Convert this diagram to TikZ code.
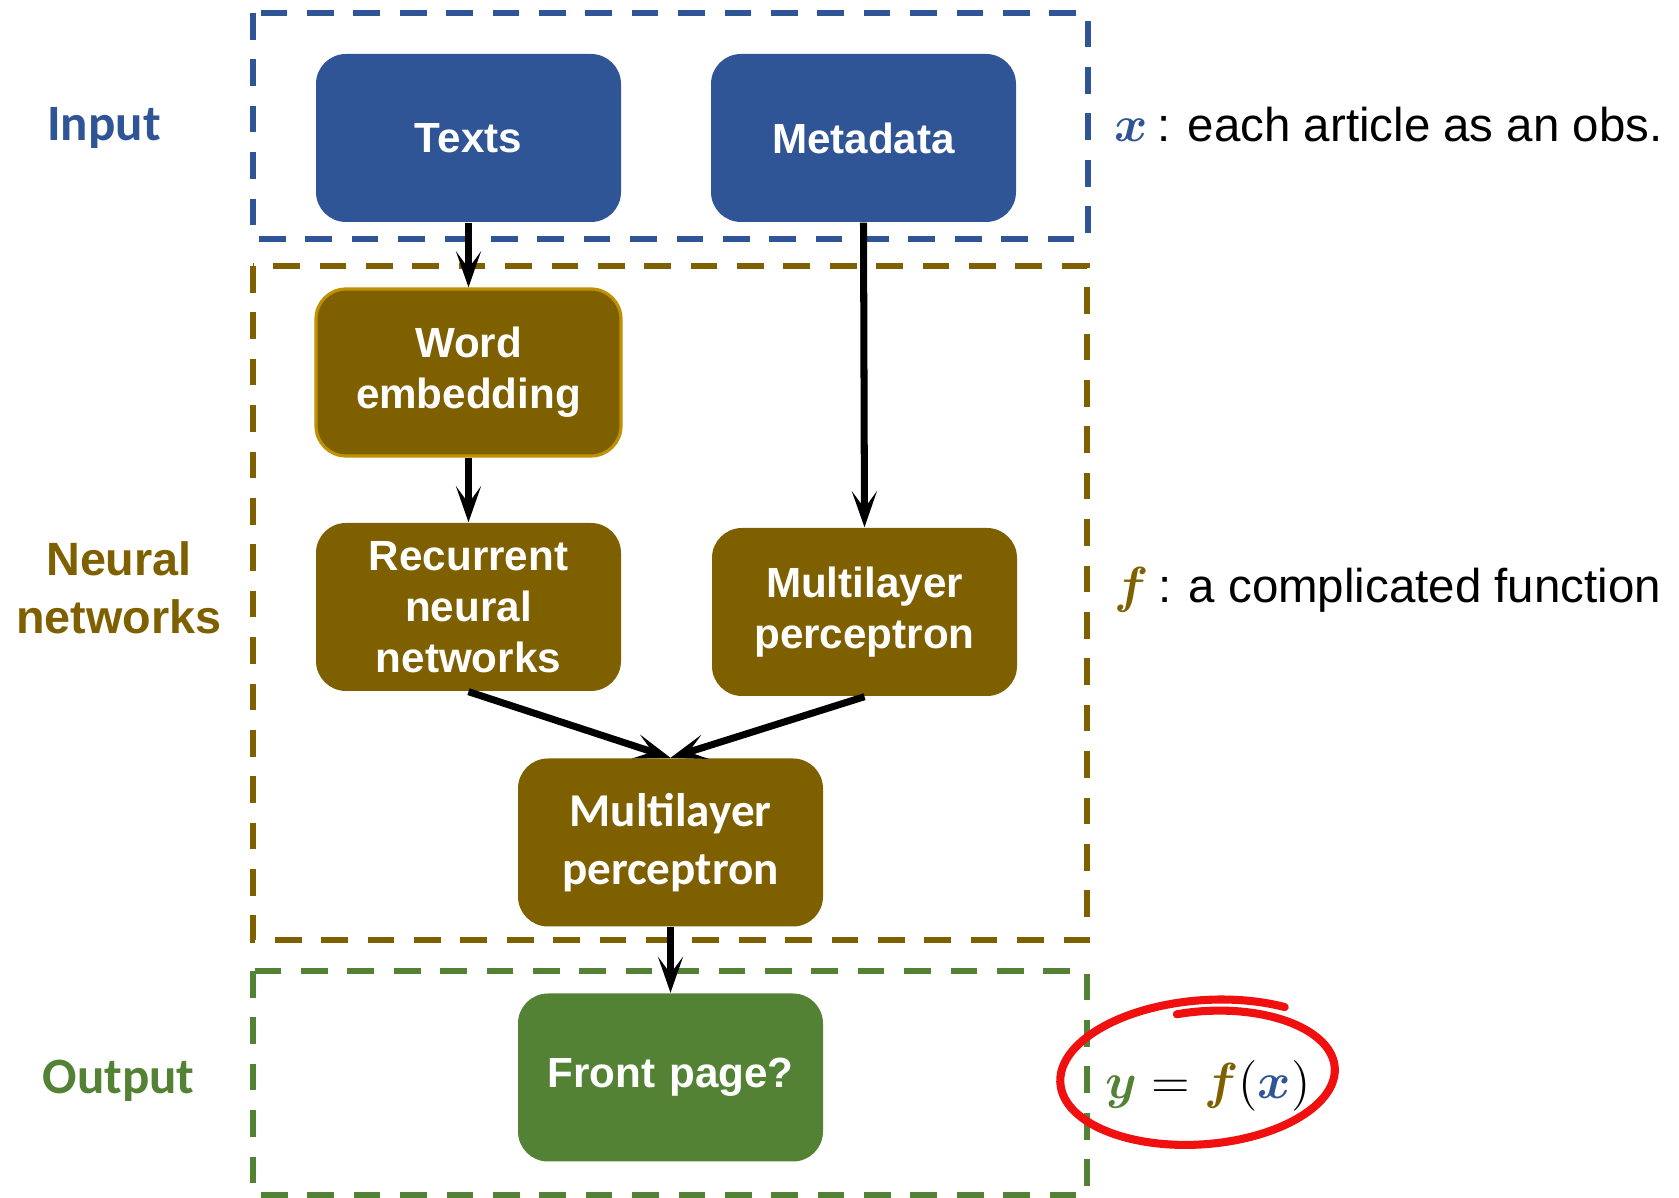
\documentclass[tikz,border=0pt]{standalone}
\usepackage[no-math]{fontspec}
\usepackage{bm}
\setmainfont{Liberation Sans}
\newfontfamily\calibri{Carlito}
\usetikzlibrary{arrows.meta}
\definecolor{inblue}{HTML}{2F5597}
\definecolor{nnbrown}{HTML}{7F6000}
\definecolor{nngold}{HTML}{BF9000}
\definecolor{outgreen}{HTML}{548235}
\definecolor{loopred}{HTML}{F01010}

\begin{document}
\begin{tikzpicture}[
    box/.style={rounded corners=0.3cm, minimum width=3.05cm, minimum height=1.68cm, text width=2.95cm, align=center, inner sep=0pt, text=white, font=\fontsize{12}{14.5}\selectfont\bfseries},
    frame/.style={line width=1.5pt, dash pattern=on 7.6pt off 5.6pt},
    link/.style={line width=2pt, -{Stealth[length=0.36cm, width=0.25cm, inset=0.17cm]}},
    side/.style={align=center, inner sep=0pt},
    note/.style={anchor=base west, inner sep=0pt, font=\fontsize{13.5}{16}\selectfont}
]
    \useasboundingbox (0,0) rectangle (16.79,11.98);
    % dashed frames
    \draw[frame, inblue] (2.53,11.85) rectangle (10.88,9.59);
    \draw[frame, nnbrown] (2.53,9.32) rectangle (10.87,2.58);
    \draw[frame, outgreen] (2.53,2.27) rectangle (10.87,0.03);
    % side labels
    \node[side, text=inblue, font=\calibri\fontsize{14.5}{18}\selectfont\bfseries] (lin) at (1.04,10.70) {Input};
    \node[side, text=nnbrown, font=\fontsize{13.3}{16.5}\selectfont\bfseries] (lnn) at (1.19,6.10) {Neural\\networks};
    \node[side, text=outgreen, font=\calibri\fontsize{14.5}{18}\selectfont\bfseries] (lout) at (1.185,1.17) {Output};
    % boxes
    \node[box, fill=inblue] (texts) at (4.685,10.60) {Texts};
    \node[box, fill=inblue] (meta) at (8.635,10.60) {Metadata};
    \node[box, fill=nnbrown, draw=nngold, line width=0.9pt, minimum height=1.67cm] (embed) at (4.685,8.255) {Word\\embedding};
    \node[box, fill=nnbrown] (rnn) at (4.685,5.91) {Recurrent\\neural\\networks};
    \node[box, fill=nnbrown] (mlpr) at (8.645,5.86) {Multilayer\\perceptron};
    \node[box, fill=nnbrown, font=\calibri\fontsize{13.4}{16.5}\selectfont\bfseries] (mlpc) at (6.705,3.555) {Multilayer\\perceptron};
    \node[box, fill=outgreen] (front) at (6.705,1.205) {Front page?};
    % connectors
    \draw[link] (texts.south) -- (embed.north);
    \draw[link] (meta.south) -- (mlpr.north);
    \draw[link] (embed.south) -- (rnn.north);
    \draw[link] (rnn.south) -- (mlpc.north);
    \draw[link] (mlpr.south) -- (mlpc.north);
    \draw[link] (mlpc.south) -- (front.north);
    % notes on the right
    \node[note] (nx) at (11.14,10.56) {\textcolor{inblue}{$\bm{x}$}\hspace{0.09cm}: each article as an obs.};
    \node[note] (nf) at (11.14,5.95) {\textcolor{nnbrown}{$\bm{f}$}\hspace{0.09cm}: a complicated function};
    \node[inner sep=0pt, font=\fontsize{13.8}{16}\selectfont] (eq) at (12.08,1.12)
        {$\textcolor{outgreen}{\bm{y}} = \textcolor{nnbrown}{\bm{f}}(\textcolor{inblue}{\bm{x}})$};
    \draw[loopred, line width=2.3pt, line cap=round, rotate around={4:(12.03,1.23)}]
        plot[domain=100:-305, samples=120, smooth]
        ({12.03+(0.88+0.17*(100-\x)/400)*1.43*cos(\x)}, {1.23+(0.88+0.17*(100-\x)/400)*0.72*sin(\x)});
\end{tikzpicture}
\end{document}
